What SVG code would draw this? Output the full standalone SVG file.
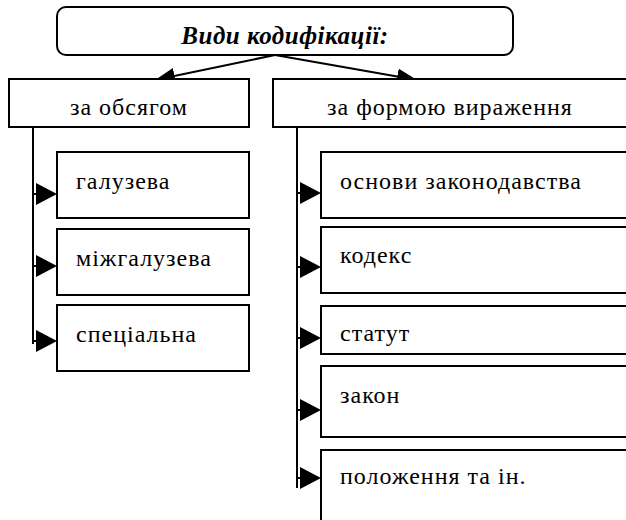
<svg xmlns="http://www.w3.org/2000/svg" width="626" height="520" viewBox="0 0 626 520">
<defs>
<style>
.box{fill:#fff;stroke:#000;stroke-width:2}
.ln{fill:none;stroke:#000;stroke-width:2}
.t{font-family:"Liberation Serif","Times New Roman",serif;font-size:24px;letter-spacing:1px;fill:#000}
.title{font-family:"Liberation Serif","Times New Roman",serif;font-size:25px;letter-spacing:0.5px;font-weight:bold;font-style:italic;fill:#000}
.ah{fill:#000}
</style>
<marker id="arr" markerUnits="userSpaceOnUse" markerWidth="22" markerHeight="22" refX="20" refY="8" orient="auto">
<path d="M0,0 L20,8 L0,16 Z" fill="#000"/>
</marker>
</defs>
<rect width="626" height="520" fill="#fff"/>
<g id="connectors">
<line class="ln" x1="275" y1="55" x2="155" y2="80" marker-end="url(#arr)"/>
<line class="ln" x1="275" y1="55" x2="417" y2="80" marker-end="url(#arr)"/>
<line class="ln" x1="33" y1="127" x2="33" y2="344"/>
<line class="ln" x1="297" y1="127" x2="297" y2="488"/>
<g>
<line class="ln" x1="33" y1="194" x2="40" y2="194"/><path class="ah" d="M36,183 L57,194 L36,205 Z"/>
<line class="ln" x1="33" y1="266" x2="40" y2="266"/><path class="ah" d="M36,255 L57,266 L36,277 Z"/>
<line class="ln" x1="33" y1="341" x2="40" y2="341"/><path class="ah" d="M36,330 L57,341 L36,352 Z"/>
<line class="ln" x1="297" y1="193" x2="304" y2="193"/><path class="ah" d="M300,182 L321,193 L300,204 Z"/>
<line class="ln" x1="297" y1="267" x2="304" y2="267"/><path class="ah" d="M300,256 L321,267 L300,278 Z"/>
<line class="ln" x1="297" y1="338" x2="304" y2="338"/><path class="ah" d="M300,327 L321,338 L300,349 Z"/>
<line class="ln" x1="297" y1="410" x2="304" y2="410"/><path class="ah" d="M300,399 L321,410 L300,421 Z"/>
<line class="ln" x1="297" y1="478" x2="304" y2="478"/><path class="ah" d="M300,467 L321,478 L300,489 Z"/>
</g>
</g>
<g id="root">
<rect class="box" x="57" y="7" width="456" height="48" rx="9"/>
<text class="title" x="285" y="44" text-anchor="middle">Види кодифікації:</text>
</g>
<g id="obsyag">
<rect class="box" x="9" y="79" width="240" height="48"/>
<text class="t" x="129" y="115" text-anchor="middle">за обсягом</text>
</g>
<g id="forma">
<rect class="box" x="273" y="79" width="370" height="48"/>
<text class="t" x="327" y="115">за формою вираження</text>
</g>
<g id="galuzeva">
<rect class="box" x="57" y="152" width="192" height="66"/>
<text class="t" x="76" y="189">галузева</text>
</g>
<g id="mizhgaluzeva">
<rect class="box" x="57" y="229" width="192" height="66"/>
<text class="t" x="76" y="266">міжгалузева</text>
</g>
<g id="spetsialna">
<rect class="box" x="57" y="305" width="192" height="66"/>
<text class="t" x="76" y="342">спеціальна</text>
</g>
<g id="osnovy">
<rect class="box" x="321" y="152" width="320" height="66"/>
<text class="t" x="340" y="189">основи законодавства</text>
</g>
<g id="kodeks">
<rect class="box" x="321" y="227" width="320" height="66"/>
<text class="t" x="340" y="263">кодекс</text>
</g>
<g id="statut">
<rect class="box" x="321" y="306" width="320" height="48"/>
<text class="t" x="340" y="341">статут</text>
</g>
<g id="zakon">
<rect class="box" x="321" y="366" width="320" height="71"/>
<text class="t" x="340" y="403">закон</text>
</g>
<g id="polozhennya">
<rect class="box" x="321" y="450" width="320" height="90"/>
<text class="t" x="340" y="484">положення та ін.</text>
</g>
</svg>
